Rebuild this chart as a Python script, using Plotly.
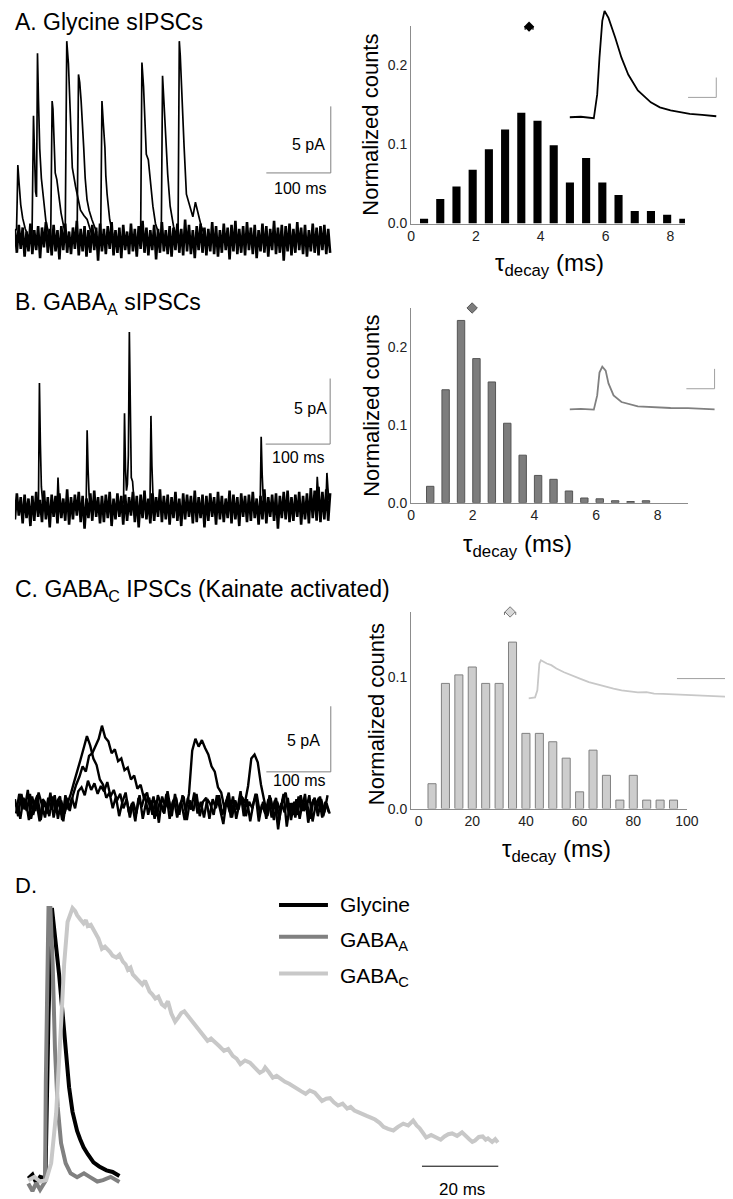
import plotly.graph_objects as go

W, H = 733, 1199
FONT = "Liberation Sans, Arial, Helvetica, sans-serif"

# ---------------- Panel A: glycine sIPSC sweeps (pA, 3 ms sampling) ----------------
a_noise = [
    0.8, -1.0, 1.1, -0.7, 0.9, -1.3, 0.6, -0.9, 1.2, -1.1, 0.7, -0.8, 1.0, -1.4, 0.9, -0.6, 1.3, -1.0, 0.8, -1.2,
    1.1, -0.9, 0.7, -1.5, 1.0, -0.8, 1.2, -1.0, 0.6, -1.1, 0.9, -0.7, 1.4, -1.2, 0.8, -0.9, 1.0, -1.3, 0.7, -1.0,
    1.1, -0.8, 0.9, -1.6, 1.2, -0.9, 0.8, -1.1, 1.0, -0.7, 1.3, -1.2, 0.7, -1.0, 0.9, -1.4, 1.1, -0.8, 0.6, -1.1,
    1.2, -0.9, 0.8, -1.3, 1.0, -0.7, 1.4, -1.0, 0.9, -1.2, 0.7, -0.8, 1.1, -1.5, 0.8, -1.0, 1.3, -0.9, 0.7, -1.1,
    1.0, -1.3, 0.9, -0.8, 1.2, -1.0, 0.8, -1.2, 1.5, -0.9, 1.1, -1.1, 0.7, -1.4, 1.0, -0.8, 1.2, -1.0, 0.9, -1.2,
    0.8, -0.9, 1.3, -1.1, 1.0, -1.3, 0.7, -1.0, 1.2, -0.8, 0.9, -1.5, 1.1, -0.9, 1.4, -1.1, 0.8, -1.0, 1.0, -1.2,
    1.3, -0.8, 0.9, -1.1, 1.1, -1.4, 0.7, -0.9, 1.2, -1.0, 1.0, -1.3, 0.8, -0.8, 1.4, -1.1, 0.9, -1.0, 1.1, -1.6,
    1.0, -0.9, 1.2, -1.2, 0.8, -1.0, 1.3, -0.8, 0.9, -1.1, 1.1, -1.3, 0.7, -0.9, 1.2, -1.0, 0.9, -1.2, 1.0, -0.8,
    1.1, -1.1, 0.8, -1.0,
]
a_event_t = [
    0, 2.5, 3.5, 4.5, 6.5, 9, 12, 16, 21, None,
    26.5, 27.8, 28.8, 30.5, 32, 33.5, 34.2, 35, 36.5, 38.5, 41, 44, 48, 53, None,
    55.5, 56.6, 57.7, 59, 60.5, 62.5, 65, 68, 71.5, 75.5, 80, None,
    78, 79.3, 80.4, 83, 85.5, 89, 94, 98, 101.7, 107, 112, 119, None,
    96.5, 97.6, 98.6, 100.5, 102.7, 106.7, 109, 111.8, 115, 119.4, 127, None,
    133, 134, 135, 137, 139.6, 141, 143, 147, 152, None,
    195, 196, 197, 199.5, 201.8, 203.8, 206.9, 210.4, 214, 218, 224, None,
    227, 228, 229, 231, 233, 235, 237, 240.8, 246, 251, None,
    253, 254, 255, 256.5, 258.5, 260.5, 262.5, 266, 271, 276, 280, 284, 289, 295,
]
a_event_i = [
    0.6, 0.8, 3.0, 5.6, 4.2, 2.6, 1.6, 0.8, 0.2, None,
    0.2, 5.0, 9.3, 6.2, 3.6, 3.2, 9.0, 14.0, 10.5, 6.8, 4.6, 3.0, 1.4, 0.3, None,
    0.2, 5.5, 10.4, 9.8, 7.2, 5.0, 4.5, 3.2, 2.0, 1.0, 0.2, None,
    0.3, 8.0, 14.9, 13.2, 10.2, 5.4, 4.0, 3.0, 2.2, 1.8, 1.5, 0.4, None,
    0.3, 6.5, 12.4, 11.8, 10.4, 6.9, 4.6, 3.0, 2.2, 1.5, 0.5, None,
    0.2, 5.5, 10.4, 8.8, 6.9, 4.8, 3.4, 1.5, 0.3, None,
    0.3, 7.0, 13.3, 11.5, 9.0, 6.4, 6.0, 4.2, 2.5, 1.2, 0.3, None,
    0.2, 6.5, 12.3, 10.5, 8.7, 6.5, 4.9, 2.5, 1.0, 0.2, None,
    0.3, 8.0, 14.9, 13.8, 11.2, 9.0, 6.9, 3.4, 2.5, 1.7, 2.8, 1.9, 1.0, 0.2,
]

# ---------------- Panel B: GABA_A sIPSC sweeps ----------------
b_noise = [
    -0.9, 1.1, -0.6, 0.8, -1.2, 1.0, -0.8, 0.7, -1.4, 0.9, -1.0, 1.2, -0.7, 0.6, -1.1, 1.3, -0.9, 0.8, -1.5, 1.0,
    -0.7, 0.9, -1.2, 1.1, -0.8, 0.7, -1.0, 1.4, -1.3, 0.8, -0.9, 1.0, -0.6, 1.2, -1.1, 0.9, -1.6, 0.7, -0.8, 1.1,
    -1.0, 1.3, -0.7, 0.8, -1.2, 0.9, -1.1, 1.0, -0.8, 1.2, -1.4, 0.7, -0.9, 1.1, -0.7, 0.9, -1.3, 1.0, -1.0, 0.8,
    -0.6, 1.2, -1.1, 0.9, -1.5, 1.0, -0.8, 1.3, -0.9, 0.7, -1.2, 1.1, -1.0, 0.8, -0.7, 1.4, -1.1, 0.9, -0.9, 1.0,
    -1.3, 0.8, -0.8, 1.2, -1.0, 0.7, -1.4, 1.1, -0.9, 1.0, -0.7, 0.9, -1.2, 1.3, -1.1, 0.8, -0.8, 1.0, -1.5, 0.9,
    -1.0, 1.1, -0.7, 0.8, -1.3, 1.2, -0.9, 0.9, -1.1, 0.7, -0.8, 1.3, -1.2, 1.0, -0.9, 0.8, -1.4, 1.1, -0.7, 0.9,
    -1.1, 1.0, -1.0, 1.2, -0.8, 0.7, -1.3, 0.9, -0.9, 1.4, -1.2, 0.8, -0.7, 1.0, -1.0, 1.1, -1.6, 0.9, -0.8, 1.2,
    -0.9, 1.3, -1.1, 0.8, -1.0, 1.0, -0.7, 1.2, -1.3, 0.9, -0.9, 1.1, -1.2, 1.5, -0.8, 1.3, -1.0, 1.6, -1.1, 1.2,
    -0.9, 1.4, -1.0, 1.1,
]
b_event_t = [
    36.5, 38, 39.5, 41, 43.5, None,
    65.5, 66.8, 68, 70, None,
    110.5, 112, 113.5, 115, 117.5, None,
    168.5, 170, 171.5, 173, 174.5, 176, 177.5, 179, 180.5, 182.5, 185, None,
    209.5, 211, 212.5, 214, 216.5, None,
    380.5, 382, 383.5, 385, 387.5, None,
    467.5, 469, 470.5, 472, None,
    482.5, 484, 485.5, 487,
]
b_event_i = [
    0.3, 9.5, 4.8, 1.6, 0.2, None,
    0.2, 2.3, 1.0, 0.1, None,
    0.2, 5.9, 2.9, 1.0, 0.1, None,
    0.3, 7.2, 3.0, 1.3, 1.8, 4.0, 13.4, 6.0, 2.3, 2.0, 0.3, None,
    0.2, 7.0, 3.2, 1.1, 0.1, None,
    0.2, 5.4, 2.6, 0.9, 0.0, None,
    0.3, 2.35, 1.2, 0.4, None,
    0.4, 2.65, 1.5, 0.6,
]

# ---------------- Panel C: GABA_C IPSC sweeps (5 ms sampling) ----------------
c_sweep1 = [
    0.5, -0.8, 0.9, -0.3, 1.2, -1.0, 0.2, 0.8, -1.1, 0.4, -0.6, 1.0, -0.9, 0.3, 0.7, -1.2, 0.6, -0.4,
    0.8, 1.6, 2.2, 3.0, 2.6, 3.8, 4.0, 4.6, 5.1, 6.1, 5.2, 4.9, 4.0, 4.3, 3.4, 3.6, 2.7, 2.9, 2.0, 2.3,
    1.3, 1.6, 0.6, 1.0, -0.3, 0.7, -0.8, 0.4, -0.5, 0.9, -1.0, 0.3, 0.6, -0.7, 0.8, -0.4, 0.9,
    4.2, 5.1, 4.5, 5.0, 4.4, 3.9, 3.0, 2.6, 1.4, 1.0, -0.2, 0.7,
    -0.9, 0.4, -0.3, 1.1, -0.8, 0.5, -1.2, 0.2, 0.9, -0.6, 0.3, -1.0, 0.8, -0.2, 0.6, -1.1, 0.4, 1.0,
    -0.7, 0.2, -0.9, 0.7, -0.4, 0.9, -1.3, 0.1, 0.6, -0.8, 0.5, -0.5, 0.8,
]
c_sweep2 = [
    -0.6, 0.9, -0.2, 0.5, -1.1, 0.7, -0.4, 1.0, 0.1, -0.9, 0.6, -0.3, 0.8, -1.0, 0.4, -0.6, 0.2,
    0.9, 1.8, 2.6, 3.5, 4.4, 5.3, 4.6, 3.6, 3.1, 2.0, 1.6, 0.6, 1.0, -0.2,
    0.7, -0.8, 0.3, 1.0, -0.5, 0.2, -1.2, 0.6, -0.1, 0.9, -0.7, 0.4, -1.0, 0.8, 0.1, -0.6, 1.1, -0.3,
    0.5, -0.9, 0.2, 0.7, -1.1, 0.4, -0.4, 0.9, -0.8, 0.3, 0.6, -1.0, 0.5, -0.2, 0.8, -0.7, 0.1, 1.0,
    -0.9, 0.4, -0.3, 0.7, 0.2,
    1.5, 3.6, 3.9, 3.3, 1.6, 0.4,
    -0.8, 0.6, -1.1, 0.3, -0.4, 0.9, -1.6, 0.2, -0.7, 0.5, -1.0, 0.4, -0.3, 0.8, -1.2, 0.1, 0.6, -0.9,
    0.3, -0.5,
]
c_sweep3 = [
    0.2, -1.0, 0.6, -0.4, 0.9, -0.7, 0.3, -1.2, 0.5, 0.1, -0.8, 0.7, -0.5, 0.4, -1.1, 0.8, -0.3, 0.6, -0.2, 1.1,
    1.4, 0.8, 1.9, 1.2, 1.7, 0.9, 1.5, 1.1, 1.8, 0.7, 1.2, 0.4, 0.9, -0.2, 0.5, -0.9, 0.3, -0.6, 0.8, -1.0,
    0.2, 0.6, -0.7, 0.4, -1.3, 0.7, -0.1, 0.5, -0.8, 0.9, -0.4, 0.2, -1.1, 0.6, -0.3, 1.0, -0.6, 0.3, -0.9, 0.5,
    0.1, -0.7, 0.8, -0.2, -1.4, 0.4, -0.5, 0.7, -1.0, 0.2, 0.6, -0.8, 0.3, -0.2, 0.9, -1.2, 0.1, -0.6, 0.5, -0.9,
    0.4, -1.8, 0.2, -0.5, 0.6, -1.1, 0.3, -0.7, 0.8, -0.4, 0.1, -1.0, 0.5, -0.3, 0.7, -0.8, 0.2, -0.6,
]

# ---------------- Histograms (normalized counts vs tau_decay) ----------------
a_bins = [0.4, 0.9, 1.4, 1.9, 2.4, 2.9, 3.4, 3.9, 4.4, 4.9, 5.4, 5.9, 6.4, 6.9, 7.4, 7.9, 8.4]
a_counts = [0.006, 0.031, 0.047, 0.068, 0.094, 0.119, 0.140, 0.130, 0.099, 0.052, 0.083, 0.052,
            0.036, 0.016, 0.016, 0.011, 0.006]
b_bins = [0.62, 1.12, 1.62, 2.12, 2.62, 3.12, 3.62, 4.12, 4.62, 5.12, 5.62, 6.12, 6.62, 7.12, 7.62]
b_counts = [0.021, 0.145, 0.234, 0.185, 0.155, 0.102, 0.061, 0.035, 0.030, 0.015, 0.006, 0.005,
            0.0025, 0.0015, 0.0025]
c_bins = [5, 10, 15, 20, 25, 30, 35, 40, 45, 50, 55, 60, 65, 70, 75, 80, 85, 90, 95]
c_counts = [0.019, 0.0955, 0.102, 0.108, 0.0955, 0.0955, 0.127, 0.0574, 0.0574, 0.051, 0.0385,
            0.0128, 0.0446, 0.0254, 0.0065, 0.0254, 0.0065, 0.0065, 0.0065]

# mean tau_decay +/- SEM (plotted above each histogram)
a_mean, a_sem, a_mark_y = [3.64], [0.12], [0.249]
b_mean, b_sem, b_mark_y = [1.98], [0.05], [0.25]
c_mean, c_sem, c_mark_y = [34.1], [2.1], [0.15]

# ---------------- Averaged event insets (ms, pA) ----------------
a_inset_t = [0, 2.0, 4.3, 4.9, 5.3, 5.8, 6.2, 6.9, 8.1, 9.2, 10.4, 12.1, 14.4, 16.0, 17.9, 19.5, 21.3, 23.5, 26.0]
a_inset_i = [0, 0.05, -0.1, 2.3, 6.0, 9.7, 10.7, 10.0, 8.0, 6.0, 4.3, 2.7, 1.5, 1.0, 0.7, 0.5, 0.35, 0.25, 0.1]
b_inset_t = [0, 2.0, 4.3, 4.9, 5.3, 5.8, 6.4, 6.9, 7.8, 9.2, 12.1, 15.0, 17.9, 21.0, 25.7]
b_inset_i = [0, 0.05, -0.03, 1.4, 3.7, 4.3, 3.9, 2.6, 1.4, 0.73, 0.3, 0.2, 0.13, 0.12, 0.0]
c_inset_t = [0, 2.6, 3.5, 4.3, 4.9, 7.2, 9.0, 11.0, 14.0, 17.4, 20.5, 23.8, 27.0, 30.3, 33.5, 36.7, 40.0,
             43.1, 46.5, 49.5, 53.0, 55.9, 60.0, 64.0, 68.7, 73.0, 78.8]
c_inset_i = [0, 0.2, 1.5, 6.4, 7.0, 6.4, 6.1, 5.5, 4.8, 4.1, 3.6, 3.0, 2.6, 2.1, 1.8, 1.5, 1.3,
             1.1, 1.15, 0.9, 0.85, 0.8, 0.75, 0.65, 0.6, 0.5, 0.3]

# ---------------- Panel D: normalized averaged currents ----------------
d_gly_t = [-0.1, 1.0, 2.0, 3.0, 4.4, 5.2, 6.1, 7.2, 8.0, 8.9, 9.7, 10.6, 11.5, 12.1, 12.7, 13.5, 14.4, 15.5,
           17.0, 18.5, 20.4, 22.0, 23.8]
d_gly_y = [0.006, 0.02, -0.01, 0.012, 0.006, 0.6, 0.996, 0.87, 0.75, 0.61, 0.46, 0.34, 0.25, 0.215, 0.18, 0.15,
           0.12, 0.095, 0.065, 0.05, 0.036, 0.03, 0.015]
d_gabaa_t = [-0.1, 1.0, 2.0, 3.0, 4.3, 4.5, 5.2, 5.7, 6.3, 6.9, 7.6, 8.5, 9.7, 11.0, 12.7, 14.5, 16.1, 18.0,
             19.5, 21.5, 23.8]
d_gabaa_y = [-0.012, -0.04, -0.01, -0.035, -0.006, 0.36, 0.996, 0.996, 0.79, 0.48, 0.27, 0.135, 0.062, 0.025,
             0.011, 0.025, 0.011, -0.005, 0.0, 0.012, -0.007]
d_gabac_t = [
    -0.1, 1.5, 3.0, 4.6, 5.9, 7.2, 8.5, 9.3, 10.2, 11.5,
    12.2, 12.7, 13.5, 14.4, 15.0, 15.5, 16.3, 17.0, 17.7, 18.3,
    19.2, 20.0, 21.3, 22.0, 23.0, 23.8, 24.7, 25.4, 26.0, 26.7,
    27.3, 28.2, 29.0, 29.8, 30.5, 31.0, 31.7, 32.4, 33.2, 34.0,
    34.9, 35.7, 36.5, 37.4, 38.4, 39.2, 40.0, 40.8, 41.8, 42.6,
    43.5, 44.2, 45.0, 45.9, 46.9, 47.8, 49.0, 50.0, 51.2, 52.3,
    53.5, 54.5, 55.5, 56.7, 58.0, 59.3, 60.6, 61.5, 62.0, 63.0,
    64.0, 65.0, 66.0, 67.2, 68.3, 69.4, 70.5, 71.5, 72.6, 73.7,
    75.0, 76.0, 76.9, 78.0, 79.0, 80.0, 81.1, 82.3, 83.5, 84.4,
    85.4, 86.5, 87.5, 88.6, 89.7, 90.8, 92.0, 93.0, 94.2, 95.6,
    96.8, 98.2, 99.5, 100.8, 101.7, 102.5, 103.4, 104.2, 105.5, 106.8,
    108.0, 109.0, 110.0, 111.0, 112.3, 113.6, 114.5, 115.5, 116.3, 117.0,
    118.0, 119.0, 119.8, 120.4, 121.5, 122.3, 123.0,
]
d_gabac_y = [
    0.0, 0.012, -0.005, 0.0, 0.062, 0.244, 0.57, 0.79, 0.945, 0.996,
    0.985, 0.97, 0.955, 0.94, 0.952, 0.93, 0.935, 0.918, 0.9, 0.884,
    0.847, 0.855, 0.836, 0.822, 0.815, 0.825, 0.8, 0.79, 0.77, 0.778,
    0.753, 0.74, 0.728, 0.716, 0.73, 0.71, 0.69, 0.68, 0.665, 0.672,
    0.644, 0.635, 0.655, 0.61, 0.58, 0.595, 0.612, 0.618, 0.6, 0.585,
    0.57, 0.56, 0.54, 0.525, 0.51, 0.518, 0.5, 0.49, 0.473, 0.48,
    0.455, 0.445, 0.425, 0.438, 0.43, 0.41, 0.393, 0.4, 0.412, 0.395,
    0.375, 0.382, 0.37, 0.36, 0.353, 0.342, 0.335, 0.325, 0.316, 0.328,
    0.32, 0.305, 0.29, 0.298, 0.3, 0.285, 0.273, 0.28, 0.262, 0.268,
    0.255, 0.248, 0.24, 0.235, 0.229, 0.222, 0.21, 0.195, 0.188, 0.182,
    0.195, 0.207, 0.2, 0.218, 0.2, 0.19, 0.172, 0.156, 0.165, 0.156,
    0.148, 0.16, 0.168, 0.171, 0.162, 0.175, 0.165, 0.15, 0.14, 0.145,
    0.158, 0.16, 0.148, 0.153, 0.14, 0.15, 0.138,
]


# ---------------- helpers for layout (pixel boxes -> paper fractions) ----------------
def xd(p0, p1):
    return [p0 / W, p1 / W]


def yd(top, bottom):
    return [1 - bottom / H, 1 - top / H]


fig = go.Figure()

# --- trace panels ---
fig.add_trace(go.Scatter(x0=0, dx=3, y=a_noise, mode="lines", line=dict(color="black", width=2.6),
                         xaxis="x", yaxis="y", showlegend=False, hoverinfo="skip"))
fig.add_trace(go.Scatter(x=a_event_t, y=a_event_i, mode="lines", line=dict(color="black", width=1.7),
                         xaxis="x", yaxis="y", showlegend=False, hoverinfo="skip"))
fig.add_trace(go.Scatter(x0=0, dx=3, y=b_noise, mode="lines", line=dict(color="black", width=2.6),
                         xaxis="x4", yaxis="y4", showlegend=False, hoverinfo="skip"))
fig.add_trace(go.Scatter(x=b_event_t, y=b_event_i, mode="lines", line=dict(color="black", width=1.7),
                         xaxis="x4", yaxis="y4", showlegend=False, hoverinfo="skip"))
for x0, sw in [(0, c_sweep1), (1.7, c_sweep2), (3.3, c_sweep3)]:
    fig.add_trace(go.Scatter(x0=x0, dx=5, y=sw, mode="lines", line=dict(color="black", width=2.4),
                             xaxis="x7", yaxis="y7", showlegend=False, hoverinfo="skip"))

# --- histograms ---
fig.add_trace(go.Bar(x=a_bins, y=a_counts, width=0.25, marker=dict(color="black", line=dict(width=0)),
                     xaxis="x2", yaxis="y2", showlegend=False))
fig.add_trace(go.Bar(x=b_bins, y=b_counts, width=0.24,
                     marker=dict(color="#7d7d7d", line=dict(color="#555555", width=1)),
                     xaxis="x5", yaxis="y5", showlegend=False))
fig.add_trace(go.Bar(x=c_bins, y=c_counts, width=3.0,
                     marker=dict(color="#cdcdcd", line=dict(color="#808080", width=1)),
                     xaxis="x8", yaxis="y8", showlegend=False))

fig.add_trace(go.Scatter(x=a_mean, y=a_mark_y, mode="markers", cliponaxis=False,
                         marker=dict(symbol="diamond", size=8, color="black"),
                         error_x=dict(type="data", array=a_sem, color="black", thickness=1.2, width=3),
                         xaxis="x2", yaxis="y2", showlegend=False))
fig.add_trace(go.Scatter(x=b_mean, y=b_mark_y, mode="markers", cliponaxis=False,
                         marker=dict(symbol="diamond", size=8, color="#7d7d7d", line=dict(color="#555", width=1)),
                         error_x=dict(type="data", array=b_sem, color="#555", thickness=1, width=3),
                         xaxis="x5", yaxis="y5", showlegend=False))
fig.add_trace(go.Scatter(x=c_mean, y=c_mark_y, mode="markers", cliponaxis=False,
                         marker=dict(symbol="diamond", size=8, color="#d8d8d8", line=dict(color="#777", width=1)),
                         error_x=dict(type="data", array=c_sem, color="#777", thickness=1, width=3),
                         xaxis="x8", yaxis="y8", showlegend=False))

# --- insets ---
fig.add_trace(go.Scatter(x=a_inset_t, y=a_inset_i, mode="lines", line=dict(color="black", width=1.8),
                         xaxis="x3", yaxis="y3", showlegend=False, hoverinfo="skip"))
fig.add_trace(go.Scatter(x=b_inset_t, y=b_inset_i, mode="lines", line=dict(color="#808080", width=1.8),
                         xaxis="x6", yaxis="y6", showlegend=False, hoverinfo="skip"))
fig.add_trace(go.Scatter(x=c_inset_t, y=c_inset_i, mode="lines", line=dict(color="#c8c8c8", width=1.8),
                         xaxis="x9", yaxis="y9", showlegend=False, hoverinfo="skip"))

# --- panel D ---
fig.add_trace(go.Scatter(x=d_gly_t, y=d_gly_y, mode="lines", line=dict(color="black", width=4),
                         xaxis="x10", yaxis="y10", showlegend=False, hoverinfo="skip"))
fig.add_trace(go.Scatter(x=d_gabaa_t, y=d_gabaa_y, mode="lines", line=dict(color="#808080", width=4),
                         xaxis="x10", yaxis="y10", showlegend=False, hoverinfo="skip"))
fig.add_trace(go.Scatter(x=d_gabac_t, y=d_gabac_y, mode="lines", line=dict(color="#c8c8c8", width=4),
                         xaxis="x10", yaxis="y10", showlegend=False, hoverinfo="skip"))

hidden = dict(visible=False, showgrid=False, zeroline=False, fixedrange=True)
tickfont = dict(family=FONT, size=14, color="#222")


def hist_axis(domain, rng, tickvals, ticktext, anchor):
    return dict(domain=domain, range=rng, showline=True, linecolor="#8c8c8c", linewidth=1,
                ticks="", showgrid=False, zeroline=False, tickvals=tickvals, ticktext=ticktext,
                tickfont=tickfont, anchor=anchor, fixedrange=True)


tr_x = xd(3, 329.2)
layout = dict(
    width=W, height=H, margin=dict(l=0, r=0, t=0, b=0),
    paper_bgcolor="white", plot_bgcolor="rgba(0,0,0,0)", showlegend=False,
    font=dict(family=FONT, color="black"),
    xaxis=dict(hidden, domain=tr_x, range=[0, 495], anchor="y"),
    yaxis=dict(hidden, domain=yd(20, 270), range=[-2.76, 15.9], anchor="x"),
    xaxis4=dict(hidden, domain=tr_x, range=[0, 495], anchor="y4"),
    yaxis4=dict(hidden, domain=yd(300, 540), range=[-2.8, 15.38], anchor="x4"),
    xaxis7=dict(hidden, domain=tr_x, range=[0, 495], anchor="y7"),
    yaxis7=dict(hidden, domain=yd(600, 840), range=[-2.8, 15.38], anchor="x7"),
    xaxis2=hist_axis(xd(408, 688), [0, 8.45], [0, 2, 4, 6, 8], ["0", "2", "4", "6", "8"], "y2"),
    yaxis2=hist_axis(yd(18, 217), [0, 0.25], [0, 0.1, 0.2], ["0.0", "0.1", "0.2"], "x2"),
    xaxis5=hist_axis(xd(408, 691), [0, 8.98], [0, 2, 4, 6, 8], ["0", "2", "4", "6", "8"], "y5"),
    yaxis5=hist_axis(yd(302, 498), [0, 0.25], [0, 0.1, 0.2], ["0.0", "0.1", "0.2"], "x5"),
    xaxis8=hist_axis(xd(408, 690), [-2.8, 100], [0, 20, 40, 60, 80, 100],
                     ["0", "20", "40", "60", "80", "100"], "y8"),
    yaxis8=hist_axis(yd(608, 806), [0, 0.15], [0, 0.1], ["0.0", "0.1"], "x8"),
    xaxis3=dict(hidden, domain=xd(570, 722), range=[0, 26.35], anchor="y3"),
    yaxis3=dict(hidden, domain=yd(0, 120), range=[-1, 11], anchor="x3"),
    xaxis6=dict(hidden, domain=xd(570, 722), range=[0, 26.35], anchor="y6"),
    yaxis6=dict(hidden, domain=yd(290, 410), range=[-0.6, 11.4], anchor="x6"),
    xaxis9=dict(hidden, domain=xd(528, 733), range=[0, 79], anchor="y9"),
    yaxis9=dict(hidden, domain=yd(600, 705), range=[-1.8, 17.3], anchor="x9"),
    xaxis10=dict(hidden, domain=xd(10, 510), range=[-1.8, 126.4], anchor="y10"),
    yaxis10=dict(hidden, domain=yd(890, 1199), range=[-0.069, 1.0545], anchor="x10"),
)
fig.update_layout(**layout)

shapes = []


def seg(xr, yr, x0, y0, x1, y1, color="#808080", width=1):
    shapes.append(dict(type="line", xref=xr, yref=yr, x0=x0, y0=y0, x1=x1, y1=y1,
                       line=dict(color=color, width=width)))


# scale bars of the sweep panels (100 ms, 5 pA)
seg("x", "y", 390, 5.0, 490, 5.0); seg("x", "y", 490, 5.0, 490, 10.0)
seg("x4", "y4", 389, 4.85, 489, 4.85); seg("x4", "y4", 489, 4.85, 489, 9.85)
seg("x7", "y7", 390, 2.58, 490, 2.58); seg("x7", "y7", 490, 2.58, 490, 7.58)
# inset scale bars
seg("x3", "y3", 21.0, 2.0, 26.0, 2.0, "#a0a0a0"); seg("x3", "y3", 26.0, 2.0, 26.0, 4.0, "#a0a0a0")
seg("x6", "y6", 20.7, 2.07, 25.7, 2.07, "#a0a0a0"); seg("x6", "y6", 25.7, 2.07, 25.7, 4.07, "#a0a0a0")
seg("x9", "y9", 58.5, 3.64, 78.5, 3.64, "#a0a0a0"); seg("x9", "y9", 78.5, 3.64, 78.5, 5.64, "#a0a0a0")
# panel D scale bar (20 ms)
seg("x10", "y10", 103.1, 0.051, 123.1, 0.051, "black", 1)

# panel D legend keys
legend_rows = [("Glycine", "black", 903), ("GABA<sub>A</sub>", "#808080", 935), ("GABA<sub>C</sub>", "#c8c8c8", 972)]
for _, col, py in legend_rows:
    shapes.append(dict(type="line", xref="paper", yref="paper", x0=273 / W, x1=323 / W,
                       y0=1 - py / H, y1=1 - py / H, line=dict(color=col, width=4)))

ann = []


def text_px(txt, px, py, size, xanchor="center", yanchor="middle", angle=0):
    ann.append(dict(text=txt, x=px / W, y=1 - py / H, xref="paper", yref="paper", showarrow=False,
                    xanchor=xanchor, yanchor=yanchor, textangle=angle,
                    font=dict(family=FONT, size=size, color="black")))


def text_data(txt, xr, yr, x, y, size):
    ann.append(dict(text=txt, x=x, y=y, xref=xr, yref=yr, showarrow=False, xanchor="center",
                    yanchor="middle", font=dict(family=FONT, size=size, color="black")))


# panel titles
text_px("A. Glycine sIPSCs", 1, 14, 23, "left")
text_px("B. GABA<sub>A</sub> sIPSCs", 1, 297, 23, "left")
text_px("C. GABA<sub>C</sub> IPSCs (Kainate activated)", 1, 586, 23, "left")
text_px("D.", 1, 883, 22, "left")

# scale-bar labels
text_data("5 pA", "x", "y", 455, 7.16, 16)
text_data("100 ms", "x", "y", 443, 3.8, 16)
text_data("5 pA", "x4", "y4", 458, 7.6, 16)
text_data("100 ms", "x4", "y4", 438.5, 3.8, 16)
text_data("5 pA", "x7", "y7", 447.6, 5.0, 16)
text_data("100 ms", "x7", "y7", 440, 1.9, 16)
text_data("20 ms", "x10", "y10", 113.6, -0.036, 17)

# histogram axis titles
for cx, cy in [(367, 117.5), (367.5, 400), (372, 711)]:
    text_px("Normalized counts", cx, cy, 22, angle=-90)
for cx, cy in [(550, 258), (517, 541), (557, 848)]:
    text_px("τ<sub>decay</sub> (ms)", cx, cy, 24)

# legend texts for panel D
for label, _, py in legend_rows:
    text_px(label, 333, py + (4 if "sub" in label else 0), 21, "left")

fig.update_layout(shapes=shapes, annotations=ann)
fig.write_html("out.html")
